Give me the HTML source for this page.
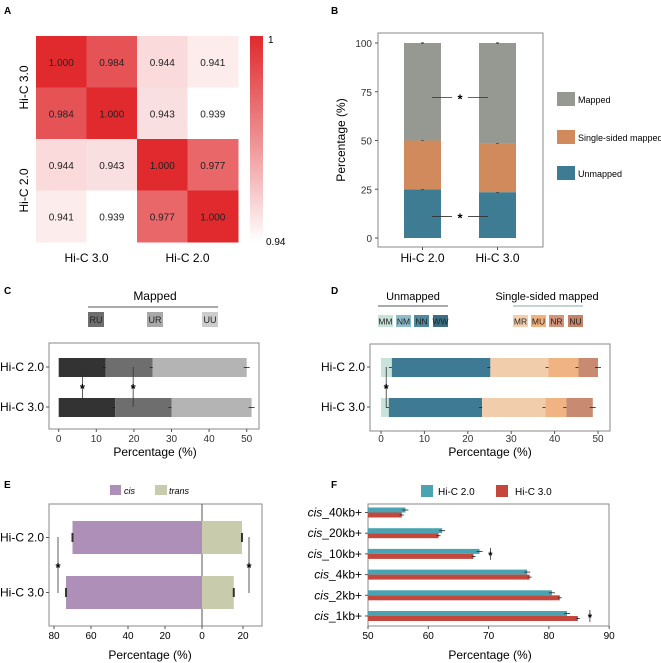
<!DOCTYPE html>
<html><head><meta charset="utf-8"><style>
body{margin:0;background:#fff;}
svg{display:block;font-family:"Liberation Sans",Arial,sans-serif;}
</style></head><body>
<svg id="fig" width="661" height="663" viewBox="0 0 661 663">
<g font-weight="bold" font-size="10" fill="#000">
<text x="4" y="14">A</text>
<text x="331" y="14">B</text>
<text x="4" y="294">C</text>
<text x="331" y="294">D</text>
<text x="4" y="488">E</text>
<text x="331" y="488">F</text>
</g>
<g id="pA"></g>
<g id="pB"></g>
<g id="pC"></g>
<g id="pD"></g>
<g id="pE"></g>
<g id="pF"></g>
</svg>
<script>
// ---- Panel A data
const heatLabels = ["Hi-C 3.0","Hi-C 3.0","Hi-C 2.0","Hi-C 2.0"];
const heatValues = [
 [1.000,0.984,0.944,0.941],
 [0.984,1.000,0.943,0.939],
 [0.944,0.943,1.000,0.977],
 [0.941,0.939,0.977,1.000]];
// ---- Panel B data
const bCategories = ["Hi-C 2.0","Hi-C 3.0"];
const bUnmapped = [25,23.5];
const bSingle = [25,25];
const bMapped = [50,51.5];
const bTicks = [0,25,50,75,100];
// ---- Panel C data
const cCategories = ["Hi-C 2.0","Hi-C 3.0"];
const cRU = [12.5,15];
const cUR = [12.5,15];
const cUU = [25,21.3];
const cTicks = [0,10,20,30,40,50];
// ---- Panel D data
const dCategories = ["Hi-C 2.0","Hi-C 3.0"];
const dMM = [2.5,1.8];
const dNN = [22.7,21.5];
const dMR = [13.4,14.6];
const dMU = [6.9,4.8];
const dNU = [4.5,6.1];
const dTicks = [0,10,20,30,40,50];
// ---- Panel E data
const eCategories = ["Hi-C 2.0","Hi-C 3.0"];
const eCis = [70,73.5];
const eTrans = [19.5,15.5];
const eTicksLeft = [80,60,40,20];
const eTicksRight = [0,20];
// ---- Panel F data
const fCategories = ["40kb+","20kb+","10kb+","4kb+","2kb+","1kb+"];
const fHiC2 = [56.2,62.3,68.5,76.4,80.5,83.0];
const fHiC3 = [55.6,61.7,67.5,76.8,81.8,84.8];
const fSig = [null,null,70.3,null,null,86.8];
const fTicks = [50,60,70,80,90];

const NS="http://www.w3.org/2000/svg";
function mk(parent,tag,attrs,text){const e=document.createElementNS(NS,tag);for(const k in attrs)e.setAttribute(k,attrs[k]);if(text!==undefined)e.textContent=text;parent.appendChild(e);return e;}

// ===== A
(function(){
 const g=document.getElementById('pA');
 const x0=36,y0=36,cw=50.5,ch=51.5;
 function col(v){let t=Math.max(0,Math.min(1,(v-0.939)/(1-0.939)));t=Math.pow(t,0.7);const r=Math.round(255+(224-255)*t),gg=Math.round(255+(42-255)*t),b=Math.round(255+(46-255)*t);return `rgb(${r},${gg},${b})`;}
 for(let i=0;i<4;i++)for(let j=0;j<4;j++){
  const c=mk(g,'rect',{x:x0+j*cw,y:y0+i*ch,width:cw+0.5,height:ch+0.5,fill:col(heatValues[i][j])});
  
  
  const t=mk(g,'text',{x:x0+j*cw+cw/2,y:y0+i*ch+ch/2+4,'text-anchor':'middle','font-size':'10',fill:'#222'},heatValues[i][j].toFixed(3));
  
  
 }
 const defs=mk(g,'defs',{});const lg=mk(defs,'linearGradient',{id:'cb',x1:0,y1:1,x2:0,y2:0});
 mk(lg,'stop',{offset:0,'stop-color':'#fff'});mk(lg,'stop',{offset:0.5,'stop-color':'#ee8f90'});mk(lg,'stop',{offset:1,'stop-color':'#e02a2e'});
 const cb=mk(g,'rect',{x:250,y:36,width:13,height:206,fill:'url(#cb)'});
 
 
 mk(g,'text',{x:268,y:43,'font-size':'10'},'1');
 mk(g,'text',{x:266,y:245,'font-size':'10'},'0.94');
 [0,1].forEach(k=>{
  const cx=x0+cw*(2*k+1);
  const t=mk(g,'text',{x:cx,y:262,'text-anchor':'middle','font-size':'12'},heatLabels[k===0?0:2]);
  
  
  const cy=y0+ch*(2*k+1);
  const t2=mk(g,'text',{x:0,y:0,'text-anchor':'middle','font-size':'12',transform:`translate(28,${cy}) rotate(-90)`},heatLabels[k===0?0:2]);
  
  
 });
})();

// ===== B
(function(){
 const g=document.getElementById('pB');
 const y=v=>238-v*1.95; const bx=[404,479], bw=37;
 mk(g,'rect',{x:378,y:33,width:165,height:214,fill:'none',stroke:'#888','stroke-width':1});
 bTicks.forEach(t=>{mk(g,'line',{x1:375,x2:378,y1:y(t),y2:y(t),stroke:'#555'});mk(g,'text',{x:372,y:y(t)+4,'text-anchor':'end','font-size':'10',fill:'#333'},t);});
 mk(g,'text',{x:0,y:0,'text-anchor':'middle','font-size':'12',transform:'translate(345,140) rotate(-90)'},'Percentage (%)');
 bCategories.forEach((c,i)=>{
  const x=bx[i];
  const s=[[0,bUnmapped[i],'#3e7c93','unmapped'],[bUnmapped[i],bUnmapped[i]+bSingle[i],'#d08a5c','single-sided-mapped'],[bUnmapped[i]+bSingle[i],bUnmapped[i]+bSingle[i]+bMapped[i],'#969991','mapped']];
  s.forEach(q=>{const r=mk(g,'rect',{x:x,y:y(q[1]),width:bw,height:y(q[0])-y(q[1]),fill:q[2]});
   
   
   mk(g,'line',{x1:x+bw/2-1.5,x2:x+bw/2+1.5,y1:y(q[1]),y2:y(q[1]),stroke:'#222'});});
  mk(g,'line',{x1:x+bw/2,x2:x+bw/2,y1:247,y2:250,stroke:'#555'});
  const t=mk(g,'text',{x:x+bw/2,y:262,'text-anchor':'middle','font-size':'12'},c);
  
  
 });
 [72,11].forEach(v=>{mk(g,'line',{x1:432,x2:452,y1:y(v),y2:y(v),stroke:'#333','stroke-width':0.8});mk(g,'line',{x1:468,x2:488,y1:y(v),y2:y(v),stroke:'#333','stroke-width':0.8});mk(g,'text',{x:460,y:y(v)+6,'text-anchor':'middle','font-size':'13','font-weight':'bold'},'*');});
 [['Mapped','#969991',92],['Single-sided mapped','#d08a5c',130],['Unmapped','#3e7c93',166]].forEach(l=>{
  const r=mk(g,'rect',{x:557,y:l[2],width:18,height:14,fill:l[1]});
  
  
  const t=mk(g,'text',{x:578,y:l[2]+11,'font-size':'9'},l[0]);
  
  
 });
})();

// generic horizontal stacked
function hstack(g,frame,x0,k,cats,segs,ticks){
 const x=v=>x0+v*k; const by=[358,398], bh=19;
 mk(g,'rect',{x:frame[0],y:frame[1],width:frame[2],height:frame[3],fill:'none',stroke:'#888'});
 ticks.forEach(t=>{mk(g,'line',{x1:x(t),x2:x(t),y1:frame[1]+frame[3],y2:frame[1]+frame[3]+3,stroke:'#555'});mk(g,'text',{x:x(t),y:442,'text-anchor':'middle','font-size':'10',fill:'#333'},t);});
 cats.forEach((c,i)=>{
  let acc=0;
  segs.forEach(s=>{const v=s[0][i];const r=mk(g,'rect',{x:x(acc),y:by[i],width:v*k,height:bh,fill:s[1]});
   
   
   acc+=v;
   mk(g,'line',{x1:x(acc)-3,x2:x(acc)+3,y1:by[i]+bh/2,y2:by[i]+bh/2,stroke:'#222','stroke-width':0.8});});
 });
 return x;
}

// ===== C
(function(){
 const g=document.getElementById('pC');
 hstack(g,[49,343,210,86],58.7,3.76,cCategories,[[cRU,'#333333','ru'],[cUR,'#6e6e6e','ur'],[cUU,'#b4b4b4','uu']],cTicks);
 cCategories.forEach((c,i)=>{mk(g,'text',{x:44,y:[367,407][i]+4,'text-anchor':'end','font-size':'12'},c);mk(g,'line',{x1:46,x2:49,y1:[367,407][i],y2:[367,407][i],stroke:'#555'});});
 [6.3,19.8].forEach(v=>{const xx=58.7+v*3.76;mk(g,'line',{x1:xx,x2:xx,y1:367,y2:407,stroke:'#333','stroke-width':0.8});mk(g,'text',{x:xx,y:393,'text-anchor':'middle','font-size':'13','font-weight':'bold'},'*');});
 mk(g,'text',{x:155,y:300,'text-anchor':'middle','font-size':'12'},'Mapped');
 mk(g,'line',{x1:88,x2:218,y1:307,y2:307,stroke:'#555'});
 [['RU','#6e6e6e',88],['UR','#a8a8a8',147],['UU','#cccccc',202]].forEach(l=>{mk(g,'rect',{x:l[2],y:312,width:16,height:15,fill:l[1]});
  const t=mk(g,'text',{x:l[2]+8,y:323,'text-anchor':'middle','font-size':'9',fill:'#222'},l[0]);
  
  });
 mk(g,'text',{x:155,y:456,'text-anchor':'middle','font-size':'12'},'Percentage (%)');
})();

// ===== D
(function(){
 const g=document.getElementById('pD');
 hstack(g,[370,344,240,87],381,4.34,dCategories,[[dMM,'#c9e3da','mm'],[dNN,'#3e7a93','nn'],[dMR,'#f2cdab','mr'],[dMU,'#f0b382','mu'],[dNU,'#c98a72','nu']],dTicks);
 dCategories.forEach((c,i)=>{mk(g,'text',{x:365,y:[367,407][i]+4,'text-anchor':'end','font-size':'12'},c);mk(g,'line',{x1:367,x2:370,y1:[367,407][i],y2:[367,407][i],stroke:'#555'});});
 const xx=381+1.2*4.34;mk(g,'line',{x1:xx,x2:xx,y1:367,y2:407,stroke:'#333','stroke-width':0.8});mk(g,'text',{x:xx,y:393,'text-anchor':'middle','font-size':'13','font-weight':'bold'},'*');
 mk(g,'text',{x:413,y:300,'text-anchor':'middle','font-size':'11'},'Unmapped');
 mk(g,'line',{x1:378,x2:448,y1:306,y2:306,stroke:'#555'});
 mk(g,'text',{x:547,y:300,'text-anchor':'middle','font-size':'11'},'Single-sided mapped');
 mk(g,'line',{x1:513,x2:583,y1:306,y2:306,stroke:'#8aa'});
 [['MM','#c7e2d9',378],['NM','#8fbccb',396],['NN','#4f8ba0',414],['WW','#3b6f85',433],['MR','#f3cfad',513],['MU','#f2b27d',531],['NR','#d2957c',549],['NU','#c5846a',568]].forEach(l=>{mk(g,'rect',{x:l[2],y:315,width:15,height:12,fill:l[1]});
  const t=mk(g,'text',{x:l[2]+7.5,y:324.5,'text-anchor':'middle','font-size':'8.5',fill:'#222'},l[0]);
  
  });
 mk(g,'text',{x:490,y:456,'text-anchor':'middle','font-size':'12'},'Percentage (%)');
})();

// ===== E
(function(){
 const g=document.getElementById('pE');
 const z=202, kl=1.85, kr=2.05; const by=[521,576], bh=33;
 mk(g,'rect',{x:49,y:504,width:213,height:122,fill:'none',stroke:'#888'});
 mk(g,'line',{x1:z,x2:z,y1:504,y2:626,stroke:'#555'});
 eCategories.forEach((c,i)=>{
  const r1=mk(g,'rect',{x:z-eCis[i]*kl,y:by[i],width:eCis[i]*kl,height:bh,fill:'#ae8fb7'});
  
  
  const r2=mk(g,'rect',{x:z,y:by[i],width:eTrans[i]*kr,height:bh,fill:'#c8cbac'});
  
  
  mk(g,'line',{x1:z-eCis[i]*kl,x2:z-eCis[i]*kl,y1:by[i]+12,y2:by[i]+21,stroke:'#333','stroke-width':2});
  mk(g,'line',{x1:z+eTrans[i]*kr,x2:z+eTrans[i]*kr,y1:by[i]+12,y2:by[i]+21,stroke:'#333','stroke-width':2});
  mk(g,'text',{x:44,y:by[i]+bh/2+4,'text-anchor':'end','font-size':'12'},c);
  mk(g,'line',{x1:46,x2:49,y1:by[i]+bh/2,y2:by[i]+bh/2,stroke:'#555'});
 });
 eTicksLeft.forEach(t=>{const xx=z-t*kl;mk(g,'line',{x1:xx,x2:xx,y1:626,y2:629,stroke:'#555'});mk(g,'text',{x:xx,y:639,'text-anchor':'middle','font-size':'10'},t);});
 eTicksRight.forEach(t=>{const xx=z+t*kr;mk(g,'line',{x1:xx,x2:xx,y1:626,y2:629,stroke:'#555'});mk(g,'text',{x:xx,y:639,'text-anchor':'middle','font-size':'10'},t);});
 [58,249].forEach(xx=>{mk(g,'line',{x1:xx,x2:xx,y1:537,y2:593,stroke:'#333','stroke-width':0.8});mk(g,'text',{x:xx,y:572,'text-anchor':'middle','font-size':'13','font-weight':'bold'},'*');});
 mk(g,'rect',{x:110,y:485,width:11,height:10,fill:'#ae8fb7'});
 mk(g,'text',{x:124,y:494,'font-size':'9','font-style':'italic'},'cis');
 mk(g,'rect',{x:155,y:485,width:12,height:10,fill:'#c8cbac'});
 mk(g,'text',{x:169,y:494,'font-size':'9','font-style':'italic'},'trans');
 mk(g,'text',{x:150,y:659,'text-anchor':'middle','font-size':'12'},'Percentage (%)');
})();

// ===== F
(function(){
 const g=document.getElementById('pF');
 const x=v=>368+(v-50)*6.03; const cy=i=>512.5+i*20.7;
 mk(g,'rect',{x:368,y:504,width:241,height:122,fill:'none',stroke:'#888'});
 fTicks.forEach(t=>{mk(g,'line',{x1:x(t),x2:x(t),y1:626,y2:629,stroke:'#555'});mk(g,'text',{x:x(t),y:639,'text-anchor':'middle','font-size':'10'},t);});
 fCategories.forEach((c,i)=>{
  const yb=cy(i)-5;
  const r1=mk(g,'rect',{x:368,y:yb,width:x(fHiC2[i])-368,height:5,fill:'#4ba3b1'});
  
  
  const r2=mk(g,'rect',{x:368,y:yb+5,width:x(fHiC3[i])-368,height:5,fill:'#c4473d'});
  
  
  mk(g,'line',{x1:x(fHiC2[i])-3,x2:x(fHiC2[i])+3,y1:yb+2.5,y2:yb+2.5,stroke:'#222','stroke-width':0.8});
  mk(g,'line',{x1:x(fHiC3[i])-2,x2:x(fHiC3[i])+2,y1:yb+7.5,y2:yb+7.5,stroke:'#222','stroke-width':0.8});
  if(fSig[i]!==null){mk(g,'line',{x1:x(fSig[i]),x2:x(fSig[i]),y1:yb-1,y2:yb+11,stroke:'#333','stroke-width':0.8});mk(g,'text',{x:x(fSig[i]),y:yb+10,'text-anchor':'middle','font-size':'11','font-weight':'bold'},'*');}
  const t=mk(g,'text',{x:362,y:cy(i)+4,'text-anchor':'end','font-size':'12'});
  mk(t,'tspan',{'font-style':'italic'},'cis');mk(t,'tspan',{},'_'+c);
  
  
  mk(g,'line',{x1:365,x2:368,y1:cy(i),y2:cy(i),stroke:'#555'});
 });
 mk(g,'rect',{x:421,y:485,width:12,height:12,fill:'#4ba3b1'});
 mk(g,'text',{x:438,y:495,'font-size':'10'},'Hi-C 2.0');
 mk(g,'rect',{x:496,y:485,width:12,height:12,fill:'#c4473d'});
 mk(g,'text',{x:515,y:495,'font-size':'10'},'Hi-C 3.0');
 mk(g,'text',{x:490,y:659,'text-anchor':'middle','font-size':'12'},'Percentage (%)');
})();
</script>
</body></html>
